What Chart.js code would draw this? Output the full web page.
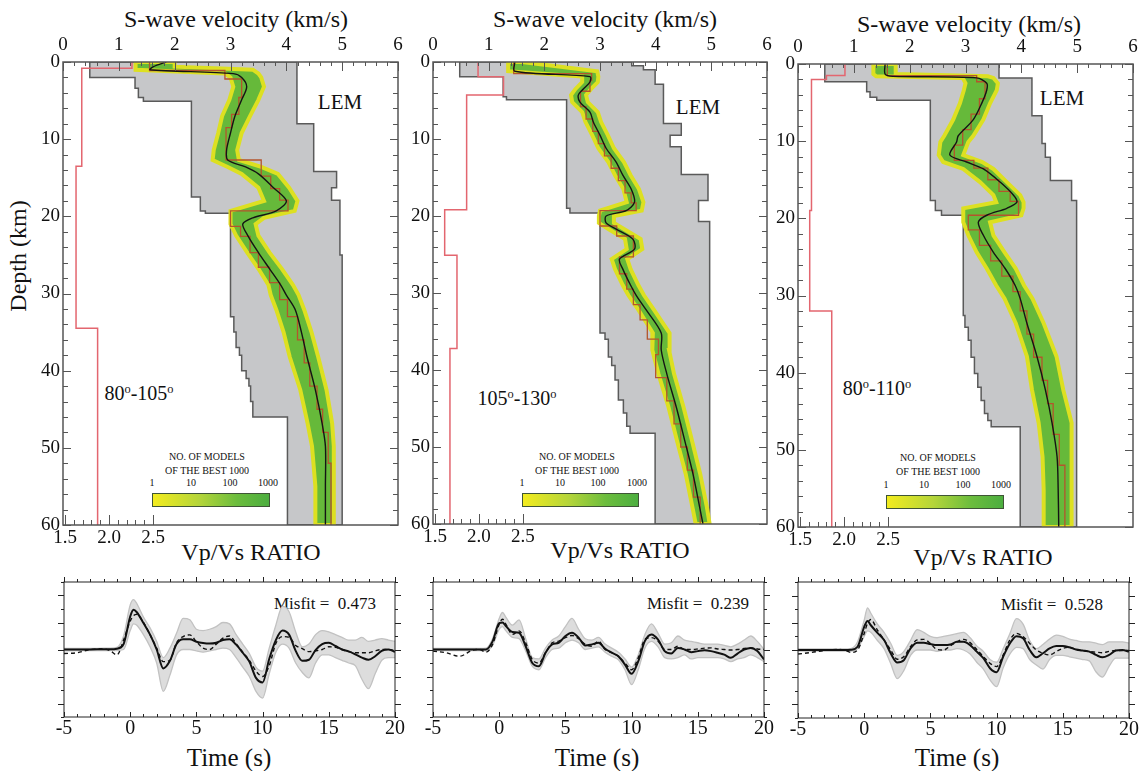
<!DOCTYPE html>
<html>
<head>
<meta charset="utf-8">
<script src="https://cdn.jsdelivr.net/npm/chart.js@4.4.1/dist/chart.umd.min.js"></script>
<style>
html, body { margin: 0; overflow: hidden; }
body { background: #fff; width: 1142px; height: 771px; position: relative;
       font-family: 'Liberation Serif', 'DejaVu Serif', serif; color: #111; }
canvas { position: absolute; }
.t { position: absolute; white-space: nowrap; line-height: 1; transform: translate(-50%, -50%); }
.t sup { font-size: 0.62em; vertical-align: 0; position: relative; top: -0.55em; }
.cb { position: absolute; height: 12px; border: 1px solid #3f5536;
      background: linear-gradient(to right, #f3ec1e, #b4d53a 40%, #6cbd3d 72%, #4cae3f); }
.small { font-size: 10px; }
</style>
</head>
<body>

<div class="t" style="left:236px;top:19px;font-size:24px">S-wave velocity (km/s)</div>
<div class="t" style="left:605px;top:19px;font-size:24px">S-wave velocity (km/s)</div>
<div class="t" style="left:969px;top:24px;font-size:24px">S-wave velocity (km/s)</div>
<div class="t" style="left:18px;top:256px;font-size:24px;transform:translate(-50%,-50%) rotate(-90deg)">Depth (km)</div>

<div class="t" style="left:340px;top:102px;font-size:21px">LEM</div>
<div class="t" style="left:698px;top:107px;font-size:21px">LEM</div>
<div class="t" style="left:1062px;top:98px;font-size:21px">LEM</div>

<div class="t" style="left:139px;top:393px;font-size:20px">80<sup>o</sup>-105<sup>o</sup></div>
<div class="t" style="left:517px;top:398px;font-size:20px">105<sup>o</sup>-130<sup>o</sup></div>
<div class="t" style="left:877px;top:388px;font-size:20px">80<sup>o</sup>-110<sup>o</sup></div>

<div class="t small" style="left:207px;top:457px">NO. OF MODELS</div>
<div class="t small" style="left:207px;top:471px">OF THE BEST 1000</div>
<div class="t small" style="left:152px;top:483px">1</div>
<div class="t small" style="left:191px;top:483px">10</div>
<div class="t small" style="left:230px;top:483px">100</div>
<div class="t small" style="left:268px;top:483px">1000</div>
<div class="cb" style="left:152px;top:493px;width:116px"></div>

<div class="t small" style="left:577px;top:457px">NO. OF MODELS</div>
<div class="t small" style="left:577px;top:471px">OF THE BEST 1000</div>
<div class="t small" style="left:522px;top:483px">1</div>
<div class="t small" style="left:560px;top:483px">10</div>
<div class="t small" style="left:598px;top:483px">100</div>
<div class="t small" style="left:637px;top:483px">1000</div>
<div class="cb" style="left:522px;top:493px;width:115px"></div>

<div class="t small" style="left:938px;top:458px">NO. OF MODELS</div>
<div class="t small" style="left:938px;top:472px">OF THE BEST 1000</div>
<div class="t small" style="left:886px;top:485px">1</div>
<div class="t small" style="left:924px;top:485px">10</div>
<div class="t small" style="left:963px;top:485px">100</div>
<div class="t small" style="left:1001px;top:485px">1000</div>
<div class="cb" style="left:886px;top:495px;width:116px"></div>

<div class="t" style="left:251px;top:552px;font-size:24px">Vp/Vs RATIO</div>
<div class="t" style="left:620px;top:550px;font-size:24px">Vp/Vs RATIO</div>
<div class="t" style="left:983px;top:557px;font-size:24px">Vp/Vs RATIO</div>

<div class="t" style="left:325px;top:603px;font-size:17px">Misfit =&nbsp; 0.473</div>
<div class="t" style="left:698px;top:603px;font-size:17px">Misfit =&nbsp; 0.239</div>
<div class="t" style="left:1052px;top:604px;font-size:17px">Misfit =&nbsp; 0.528</div>

<div class="t" style="left:229px;top:757px;font-size:25px">Time (s)</div>
<div class="t" style="left:597px;top:757px;font-size:25px">Time (s)</div>
<div class="t" style="left:957px;top:757px;font-size:25px">Time (s)</div>

<script>
// ---------- velocity profiles (depth in km, Vs in km/s) ----------
const ratioTicks = [1.5, 2.0, 2.5];

// 80-105 deg
const p1EnvMinTop = [0, 2.0, 3.4, 4.6, 5.1, 17.5, 19.3, 19.6, 33, 35, 37, 38, 40, 41, 42, 44, 46];
const p1EnvMin    = [0.48, 1.29, 1.35, 1.44, 2.3, 2.46, 2.55, 3.0, 3.06, 3.1, 3.16, 3.2, 3.28, 3.33, 3.36, 3.4, 4.02];
const p1EnvMaxTop = [0, 8, 14.2, 16.3, 17.9, 25];
const p1EnvMax    = [4.19, 4.49, 4.9, 4.81, 4.96, 5.0];
const p1Depth = [0, 0.6, 1.0, 1.5, 2, 3.2, 4.9, 7, 9.2, 11.4, 12.7, 13.6, 14.5, 16.3, 18, 19.3, 20.2, 21, 22.5, 24.7, 26.8, 28.9, 30.2, 32.1, 35, 38.2, 42.5, 46.8, 49.8, 55, 60];
const p1Best  = [1.85, 1.62, 1.56, 3.05, 3.2, 3.29, 3.2, 3.08, 3.0, 2.93, 2.95, 3.27, 3.5, 3.77, 4.0, 3.82, 3.4, 3.22, 3.31, 3.5, 3.7, 3.9, 4.0, 4.16, 4.27, 4.37, 4.52, 4.64, 4.7, 4.7, 4.7];
const p1Lo    = [1.3, 1.3, 1.3, 2.9, 3.0, 3.05, 2.98, 2.85, 2.78, 2.7, 2.68, 2.95, 3.2, 3.5, 3.6, 3.0, 3.0, 3.0, 3.1, 3.3, 3.5, 3.68, 3.72, 3.82, 3.95, 4.06, 4.25, 4.38, 4.46, 4.52, 4.52];
const p1Hi    = [2.0, 2.0, 3.4, 3.5, 3.55, 3.6, 3.5, 3.35, 3.2, 3.12, 3.15, 3.55, 3.85, 4.05, 4.2, 4.15, 3.6, 3.45, 3.5, 3.7, 3.92, 4.12, 4.22, 4.32, 4.45, 4.57, 4.72, 4.82, 4.85, 4.85, 4.85];
const p1StepTop = [0, 1.1, 2.2, 4.6, 6.8, 8.5, 12.7, 14.8, 16.4, 17.9, 19.3, 21.3, 22.6, 24.7, 26.6, 28.6, 30.8, 33, 36, 39, 42, 45, 48, 52];
const p1StepVs  = [1.55, 2.9, 3.2, 3.15, 3.02, 2.92, 3.55, 3.72, 3.88, 4.03, 3.0, 3.18, 3.35, 3.5, 3.7, 3.88, 4.02, 4.2, 4.32, 4.42, 4.55, 4.65, 4.75, 4.8];
const p1RatioTop = [0, 0.8, 13.5, 34.5];
const p1Ratio    = [2.26, 1.69, 1.625, 1.87];

// 105-130 deg
const p2EnvMinTop = [0, 1.9, 4.5, 4.9, 19.0, 19.6, 35.2, 36, 38.3, 39.4, 41.3, 43.9, 45.6, 47.3, 48.2];
const p2EnvMin    = [0.48, 1.26, 1.32, 2.4, 2.46, 3.0, 3.09, 3.15, 3.21, 3.27, 3.33, 3.42, 3.48, 3.54, 3.99];
const p2EnvMaxTop = [0, 0.5, 1.0, 2.9, 8, 9.5, 11, 14.6, 18, 20.7];
const p2EnvMax    = [3.57, 3.78, 3.99, 4.14, 4.46, 4.26, 4.46, 4.94, 4.77, 4.97];
const p2Depth = [0, 1.2, 1.9, 2.6, 3.5, 4.3, 5.2, 6.5, 7.8, 9.5, 11.2, 13, 14.7, 16.5, 18.2, 19.3, 20, 20.9, 21.7, 23, 24.3, 25.6, 26.9, 29, 30.3, 32.2, 35.2, 37.4, 40.5, 44.8, 49.1, 53.5, 57.8, 60];
const p2Best  = [1.47, 1.47, 2.82, 2.82, 2.7, 2.61, 2.64, 2.82, 2.88, 3.0, 3.11, 3.29, 3.41, 3.56, 3.62, 3.47, 3.11, 3.11, 3.29, 3.59, 3.62, 3.35, 3.41, 3.55, 3.65, 3.83, 4.1, 4.1, 4.2, 4.37, 4.52, 4.67, 4.79, 4.85];
const p2Lo    = [1.35, 1.35, 2.68, 2.68, 2.56, 2.48, 2.5, 2.68, 2.74, 2.86, 2.97, 3.15, 3.27, 3.42, 3.48, 3.0, 2.98, 2.98, 3.15, 3.45, 3.48, 3.21, 3.27, 3.41, 3.51, 3.69, 3.95, 3.94, 4.05, 4.23, 4.38, 4.54, 4.66, 4.72];
const p2Hi    = [1.6, 2.95, 2.97, 2.96, 2.84, 2.75, 2.78, 2.96, 3.02, 3.14, 3.25, 3.43, 3.55, 3.7, 3.78, 3.75, 3.25, 3.25, 3.43, 3.73, 3.76, 3.49, 3.55, 3.69, 3.79, 3.97, 4.25, 4.24, 4.33, 4.5, 4.65, 4.8, 4.92, 4.97];
const p2StepTop = [0, 1.5, 2.4, 3.8, 5.8, 7.4, 9, 10.6, 12.2, 13.8, 15.4, 17, 18.3, 19.3, 21.3, 22.6, 25.3, 27.5, 29.5, 31.5, 33.5, 36, 38, 41, 44, 47, 50, 53, 56.5];
const p2StepVs  = [1.45, 2.85, 2.82, 2.65, 2.75, 2.87, 2.97, 3.08, 3.2, 3.33, 3.45, 3.56, 3.65, 3.0, 3.3, 3.6, 3.35, 3.48, 3.6, 3.72, 3.85, 4.05, 4.0, 4.2, 4.33, 4.45, 4.57, 4.68, 4.8];
const p2RatioTop = [0, 1.9, 4.3, 19.2, 25.1, 37.2];
const p2Ratio    = [1.99, 2.28, 1.86, 1.61, 1.75, 1.67];

// 80-110 deg
const p3EnvMinTop = [0, 2.3, 3.6, 4.3, 4.7, 17.7, 19, 19.6, 32.6, 34.1, 35.8, 38, 40.1, 41.9, 43.6, 45.3, 46.2, 47];
const p3EnvMin    = [0.48, 1.23, 1.29, 1.41, 2.37, 2.46, 2.57, 2.96, 2.99, 3.05, 3.1, 3.16, 3.22, 3.28, 3.34, 3.4, 3.46, 3.98];
const p3EnvMaxTop = [0, 1.8, 6.7, 10.3, 12.1, 15.1, 17.7];
const p3EnvMax    = [3.6, 4.19, 4.37, 4.43, 4.52, 4.9, 4.99];
const p3Depth = [0, 1.3, 1.6, 1.8, 2.5, 3.4, 5.1, 7.2, 9.3, 10.1, 11.8, 12.7, 13.6, 15.3, 17, 17.9, 18.7, 19.6, 20.5, 22.2, 24.4, 26.5, 28.7, 30.4, 33.6, 37.9, 42.2, 46.5, 50.9, 55.2, 60];
const p3Best  = [1.56, 1.56, 1.7, 3.2, 3.38, 3.38, 3.29, 3.14, 2.87, 2.84, 2.72, 3.02, 3.32, 3.62, 3.86, 3.92, 3.74, 3.38, 3.23, 3.32, 3.5, 3.71, 3.89, 3.98, 4.1, 4.28, 4.43, 4.55, 4.64, 4.66, 4.67];
const p3Lo    = [1.35, 1.35, 1.4, 2.95, 3.0, 2.97, 2.9, 2.78, 2.62, 2.55, 2.52, 2.6, 2.96, 3.26, 3.5, 3.55, 2.96, 2.96, 2.96, 3.05, 3.2, 3.38, 3.55, 3.7, 3.9, 4.1, 4.19, 4.31, 4.38, 4.4, 4.4];
const p3Hi    = [1.75, 1.75, 3.4, 3.5, 3.58, 3.56, 3.44, 3.32, 3.14, 3.05, 2.96, 3.3, 3.5, 3.74, 3.98, 4.04, 4.04, 4.0, 3.44, 3.5, 3.7, 3.9, 4.05, 4.2, 4.4, 4.63, 4.75, 4.9, 4.9, 4.9, 4.9];
const p3StepTop = [0, 1.5, 2.3, 4.5, 6.5, 8.5, 10.5, 12.5, 13.5, 15, 16.5, 17.8, 19.6, 21.5, 23.5, 25.5, 27.5, 29.5, 32, 35, 38, 41, 44, 48, 52];
const p3StepVs  = [1.6, 3.2, 3.35, 3.25, 3.1, 2.95, 2.8, 3.15, 3.4, 3.6, 3.8, 3.95, 3.05, 3.25, 3.45, 3.65, 3.85, 3.98, 4.1, 4.22, 4.37, 4.47, 4.57, 4.68, 4.78];
const p3RatioTop = [0, 1.5, 2.0, 19, 32];
const p3Ratio    = [2.01, 1.8, 1.63, 1.61, 1.86];

// ---------- waveforms ----------
const time = [-5, -4, -3, -2, -1.5, -1, -0.5, 0, 0.25, 0.5, 1, 1.5, 2, 2.5, 3, 3.5, 4, 4.5, 5, 5.5, 6, 6.5, 7, 7.5, 8, 8.5, 9, 9.5, 10, 10.5, 11, 11.5, 12, 12.5, 13, 13.5, 14, 14.5, 15, 15.5, 16, 16.5, 17, 17.5, 18, 18.5, 19, 19.5, 20];

const w1Syn = [0, 0, 0, 0.01, 0.01, 0.03, 0.2, 1.22, 1.47, 1.38, 0.98, 0.55, 0.0, -0.7, -0.42, 0.2, 0.38, 0.38, 0.29, 0.24, 0.22, 0.25, 0.35, 0.38, 0.18, -0.12, -0.45, -1.05, -1.22, -0.35, 0.35, 0.7, 0.55, -0.05, -0.42, -0.38, -0.02, 0.2, 0.25, 0.13, 0.0, -0.07, -0.18, -0.3, -0.38, -0.25, -0.05, 0.0, -0.09];
const w1Obs = [-0.15, -0.12, 0.0, 0.02, -0.05, -0.2, 0.35, 1.05, 1.25, 1.3, 1.0, 0.55, 0.05, -0.45, -0.4, 0.25, 0.48, 0.54, 0.29, 0.05, 0.0, 0.2, 0.42, 0.5, 0.22, -0.1, -0.4, -0.8, -1.0, -0.6, 0.22, 0.48, 0.45, 0.15, 0.03, -0.08, -0.05, 0.0, 0.1, 0.08, 0.0, -0.08, -0.12, -0.12, -0.12, -0.05, 0.0, 0.0, -0.05];
const w1Hi  = [0.04, 0.04, 0.04, 0.05, 0.05, 0.08, 0.5, 1.65, 1.85, 1.7, 1.2, 0.8, 0.3, -0.3, 0.05, 0.6, 1.15, 1.1, 0.75, 0.7, 0.75, 0.85, 1.0, 0.95, 0.55, 0.2, -0.15, -0.65, -0.8, 0.05, 0.9, 1.6, 1.4, 0.65, 0.1, 0.2, 0.55, 0.7, 0.65, 0.55, 0.45, 0.35, 0.35, 0.45, 0.3, 0.35, 0.4, 0.35, 0.3];
const w1Lo  = [-0.05, -0.04, -0.04, -0.04, -0.04, -0.04, 0.0, 0.7, 0.95, 0.9, 0.55, 0.1, -0.5, -1.55, -0.95, -0.2, 0.0, 0.0, -0.05, -0.1, -0.05, 0.0, 0.05, 0.0, -0.3, -0.65, -1.0, -1.55, -1.8, -0.9, -0.1, 0.2, 0.05, -0.5, -0.85, -1.05, -0.5, -0.2, -0.2, -0.3, -0.4, -0.5, -0.6, -1.1, -1.45, -0.9, -0.4, -0.3, -0.3];

const w2Syn = [0, 0, 0, 0, 0, 0.0, 0.3, 0.98, 1.0, 0.87, 0.65, 0.62, 0.12, -0.5, -0.62, -0.12, 0.19, 0.25, 0.5, 0.62, 0.44, 0.15, 0.19, 0.25, 0.03, -0.12, -0.25, -0.56, -0.9, -0.44, 0.31, 0.56, 0.37, -0.06, -0.15, 0.06, 0.0, -0.1, -0.06, -0.03, -0.06, -0.12, -0.19, -0.31, -0.15, 0.0, 0.06, -0.06, -0.37];
const w2Obs = [-0.06, -0.12, -0.25, -0.02, 0.0, -0.1, 0.19, 0.94, 1.12, 0.94, 0.56, 0.69, 0.25, -0.37, -0.5, -0.12, 0.25, 0.31, 0.44, 0.52, 0.4, 0.19, 0.12, 0.31, 0.0, -0.12, -0.25, -0.5, -0.75, -0.31, 0.37, 0.44, 0.31, 0.0, 0.0, 0.12, 0.0, 0.0, 0.02, 0.05, 0.06, 0.02, 0.0, -0.02, 0.0, 0.04, 0.06, 0.02, 0.0];
const w2Hi  = [0.04, 0.04, 0.04, 0.04, 0.04, 0.05, 0.4, 1.15, 1.37, 1.2, 0.9, 1.1, 0.4, -0.3, -0.35, 0.05, 0.35, 0.5, 0.85, 1.15, 0.75, 0.4, 0.35, 0.45, 0.2, 0.05, -0.1, -0.35, -0.65, -0.2, 0.55, 0.95, 0.6, 0.2, 0.25, 0.5, 0.35, 0.3, 0.25, 0.2, 0.2, 0.2, 0.15, 0.1, 0.2, 0.35, 0.5, 0.3, 0.0];
const w2Lo  = [-0.04, -0.04, -0.04, -0.04, -0.04, -0.05, 0.15, 0.75, 0.85, 0.7, 0.45, 0.4, -0.05, -0.62, -0.75, -0.3, 0.0, 0.05, 0.25, 0.35, 0.25, 0.0, 0.05, 0.1, -0.1, -0.25, -0.38, -0.75, -1.3, -0.75, 0.05, 0.3, 0.1, -0.3, -0.35, -0.3, -0.2, -0.35, -0.3, -0.3, -0.3, -0.3, -0.35, -0.45, -0.35, -0.3, -0.2, -0.3, -0.45];

const w3Syn = [0, 0, 0, 0, 0, 0.01, 0.12, 0.85, 1.07, 0.91, 0.63, 0.37, -0.12, -0.46, -0.37, 0.06, 0.27, 0.27, 0.22, 0.18, 0.18, 0.2, 0.3, 0.3, 0.18, -0.06, -0.3, -0.67, -0.82, -0.24, 0.24, 0.51, 0.43, 0.0, -0.27, -0.12, 0.06, 0.15, 0.15, 0.1, 0.02, -0.02, -0.06, -0.18, -0.27, -0.18, -0.02, 0.0, -0.06];
const w3Obs = [-0.15, -0.09, -0.02, 0.02, 0.0, -0.09, 0.0, 0.61, 0.98, 1.12, 0.73, 0.37, 0.0, -0.34, -0.24, 0.12, 0.37, 0.39, 0.24, 0.02, 0.0, 0.15, 0.3, 0.39, 0.27, 0.02, -0.24, -0.49, -0.61, -0.18, 0.37, 0.61, 0.49, 0.24, 0.0, -0.12, -0.18, -0.06, 0.06, 0.1, 0.02, -0.03, -0.06, -0.08, -0.1, -0.05, -0.02, -0.02, -0.02];
const w3Hi  = [0.04, 0.04, 0.04, 0.04, 0.04, 0.05, 0.3, 1.1, 1.55, 1.35, 0.95, 0.65, 0.25, -0.2, -0.05, 0.35, 0.75, 0.65, 0.5, 0.45, 0.5, 0.55, 0.6, 0.65, 0.45, 0.15, -0.05, -0.35, -0.45, 0.05, 0.6, 1.15, 0.95, 0.35, 0.05, 0.2, 0.4, 0.55, 0.5, 0.4, 0.35, 0.3, 0.3, 0.25, 0.2, 0.3, 0.3, 0.3, 0.25];
const w3Lo  = [-0.04, -0.04, -0.04, -0.04, -0.04, -0.04, 0.05, 0.5, 0.7, 0.65, 0.35, 0.05, -0.5, -1.05, -0.75, -0.2, 0.0, 0.0, 0.0, -0.05, 0.0, 0.0, 0.05, 0.0, -0.15, -0.45, -0.7, -1.1, -1.35, -0.65, -0.15, 0.1, 0.05, -0.35, -0.55, -0.7, -0.35, -0.2, -0.2, -0.25, -0.3, -0.35, -0.4, -0.8, -1.0, -0.6, -0.3, -0.3, -0.3];

// ---------- helpers ----------
const serif = "'Liberation Serif', 'DejaVu Serif', serif";

function makeCanvas(left, top, w, h) {
  const c = document.createElement('canvas');
  c.width = w; c.height = h;
  c.style.left = left + 'px'; c.style.top = top + 'px';
  c.style.width = w + 'px'; c.style.height = h + 'px';
  document.body.appendChild(c);
  return c;
}

// layered model -> staircase points
function steps(tops, vals, bottom) {
  const pts = [];
  tops.forEach((t, i) => {
    const next = i + 1 < tops.length ? tops[i + 1] : bottom;
    pts.push({x: vals[i], y: t}, {x: vals[i], y: next});
  });
  return pts;
}
function nodes(depths, vals) { return depths.map((d, i) => ({x: vals[i], y: d})); }
// closed outline: left edge going down, right edge coming back up
function ring(left, right) { return left.concat(right.slice().reverse(), [left[0]]); }
function series(xs, ys) { return xs.map((x, i) => ({x: x, y: ys[i]})); }

// frame round the plot area plus tick marks drawn through the scales
function framePlugin(color, width, marks) {
  return {
    id: 'frameTicks',
    afterDatasetsDraw(chart) {
      const ctx = chart.ctx, a = chart.chartArea;
      ctx.save();
      ctx.strokeStyle = color;
      ctx.lineWidth = width;
      ctx.strokeRect(a.left, a.top, a.right - a.left, a.bottom - a.top);
      ctx.lineWidth = 1;
      marks.forEach(m => {
        const s = chart.scales[m.scale];
        const n = Math.round((m.to - m.from) / m.step);
        for (let i = 0; i <= n; i++) {
          const v = m.from + i * m.step;
          const major = Math.abs(v / m.major - Math.round(v / m.major)) < 1e-6;
          const len = (major ? m.majorLen : m.len) * (m.out ? -1 : 1);
          const p = Math.round(s.getPixelForValue(v)) + 0.5;
          ctx.beginPath();
          if (m.side === 'top') { ctx.moveTo(p, a.top); ctx.lineTo(p, a.top + len); }
          else if (m.side === 'bottom') { ctx.moveTo(p, a.bottom); ctx.lineTo(p, a.bottom - len); }
          else if (m.side === 'left') { ctx.moveTo(a.left, p); ctx.lineTo(a.left + len, p); }
          else { ctx.moveTo(a.right, p); ctx.lineTo(a.right - len, p); }
          ctx.stroke();
        }
      });
      ctx.restore();
    }
  };
}

const noGrid = {display: false, drawTicks: false};
const basePlugins = {legend: {display: false}, tooltip: {enabled: false}, filler: {drawTime: 'beforeDatasetsDraw'}};

function profileChart(box, env, band, best, stepLine, ratio) {
  const c = makeCanvas(box.L - 50, box.T - 40, box.R - box.L + 62, box.B - box.T + 70);
  new Chart(c, {
    type: 'scatter',
    data: {
      datasets: [
        {data: best, showLine: true, borderColor: '#141414', borderWidth: 1.4, tension: 0.3, pointRadius: 0},
        {data: stepLine, showLine: true, borderColor: '#b4552c', borderWidth: 1.3, pointRadius: 0},
        {data: band, showLine: true, fill: 'shape', backgroundColor: '#66b93a', borderColor: '#dde021', borderWidth: 4, pointRadius: 0},
        {data: ratio, xAxisID: 'xr', showLine: true, borderColor: '#e3666f', borderWidth: 1.5, pointRadius: 0},
        {data: env, showLine: true, fill: 'shape', backgroundColor: '#c6c7c9', borderColor: '#5a5a5a', borderWidth: 1.5, pointRadius: 0}
      ]
    },
    options: {
      responsive: false, animation: false, events: [],
      layout: {padding: {left: 0, top: 0, right: 12, bottom: 0}},
      plugins: basePlugins,
      scales: {
        x: {type: 'linear', position: 'top', min: 0, max: 6,
            ticks: {stepSize: 1, padding: 6, color: '#111', font: {family: serif, size: 19}, maxRotation: 0},
            grid: noGrid, border: {display: false},
            afterFit: s => { s.height = 40; }},
        y: {type: 'linear', position: 'left', reverse: true, min: 0, max: 60,
            ticks: {stepSize: 10, padding: 3, color: '#111', font: {family: serif, size: 19}},
            grid: noGrid, border: {display: false},
            afterFit: s => { s.width = 50; }},
        xr: {type: 'linear', position: 'bottom', min: 1.477, max: 5.28,
             afterBuildTicks: s => { s.ticks = ratioTicks.map(v => ({value: v})); },
             ticks: {padding: 2, color: '#111', font: {family: serif, size: 19}, maxRotation: 0,
                     callback: v => Number(v).toFixed(1)},
             grid: noGrid, border: {display: false},
             afterFit: s => { s.height = 30; }}
      }
    },
    plugins: [framePlugin('#555', 1.5, [
      {scale: 'x', side: 'top', from: 0, to: 6, step: 0.2, major: 1, len: 4, majorLen: 9},
      {scale: 'y', side: 'left', from: 0, to: 60, step: 2, major: 10, len: 5, majorLen: 8},
      {scale: 'y', side: 'right', from: 0, to: 60, step: 2, major: 10, len: 5, majorLen: 8},
      {scale: 'xr', side: 'bottom', from: 1.5, to: 2.5, step: 0.1, major: 0.5, len: 5, majorLen: 10}
    ])]
  });
}

function waveChart(box, syn, obs, hi, lo) {
  const c = makeCanvas(box.L - 30, box.T - 10, box.R - box.L + 44, box.B - box.T + 40);
  new Chart(c, {
    type: 'scatter',
    data: {
      datasets: [
        {data: series(time, syn), showLine: true, borderColor: '#111', borderWidth: 2, cubicInterpolationMode: 'monotone', pointRadius: 0},
        {data: series(time, obs), showLine: true, borderColor: '#111', borderWidth: 1.4, borderDash: [4, 3], cubicInterpolationMode: 'monotone', pointRadius: 0},
        {data: series(time, hi), showLine: true, fill: '+1', backgroundColor: '#dddddd', borderColor: '#c2c2c2', borderWidth: 1.3, cubicInterpolationMode: 'monotone', pointRadius: 0},
        {data: series(time, lo), showLine: true, borderColor: '#c2c2c2', borderWidth: 1.3, cubicInterpolationMode: 'monotone', pointRadius: 0}
      ]
    },
    options: {
      responsive: false, animation: false, events: [],
      layout: {padding: {left: 0, top: 10, right: 14, bottom: 0}},
      plugins: basePlugins,
      scales: {
        x: {type: 'linear', position: 'bottom', min: -5, max: 20,
            ticks: {stepSize: 5, padding: 0, color: '#111', font: {family: serif, size: 20}, maxRotation: 0},
            grid: noGrid, border: {display: false},
            afterFit: s => { s.height = 30; }},
        y: {type: 'linear', position: 'left', min: -2.5, max: 2.5,
            ticks: {display: false}, grid: noGrid, border: {display: false},
            afterFit: s => { s.width = 30; }}
      }
    },
    plugins: [framePlugin('#222', 1, [
      {scale: 'x', side: 'top', from: -5, to: 20, step: 1, major: 5, len: 3, majorLen: 5, out: true},
      {scale: 'x', side: 'bottom', from: -5, to: 20, step: 1, major: 5, len: 3, majorLen: 5},
      {scale: 'y', side: 'left', from: -2.5, to: 2.5, step: 0.5, major: 1, len: 3, majorLen: 6, out: true},
      {scale: 'y', side: 'right', from: -2.5, to: 2.5, step: 0.5, major: 1, len: 3, majorLen: 6, out: true}
    ])]
  });
}

profileChart({L: 63, R: 398, T: 62, B: 525},
  ring(steps(p1EnvMinTop, p1EnvMin, 60), steps(p1EnvMaxTop, p1EnvMax, 60)),
  ring(nodes(p1Depth, p1Lo), nodes(p1Depth, p1Hi)),
  nodes(p1Depth, p1Best), steps(p1StepTop, p1StepVs, 60), steps(p1RatioTop, p1Ratio, 60));

profileChart({L: 433, R: 767, T: 62, B: 524},
  ring(steps(p2EnvMinTop, p2EnvMin, 60), steps(p2EnvMaxTop, p2EnvMax, 60)),
  ring(nodes(p2Depth, p2Lo), nodes(p2Depth, p2Hi)),
  nodes(p2Depth, p2Best), steps(p2StepTop, p2StepVs, 60), steps(p2RatioTop, p2Ratio, 60));

profileChart({L: 798, R: 1133, T: 64, B: 527},
  ring(steps(p3EnvMinTop, p3EnvMin, 60), steps(p3EnvMaxTop, p3EnvMax, 60)),
  ring(nodes(p3Depth, p3Lo), nodes(p3Depth, p3Hi)),
  nodes(p3Depth, p3Best), steps(p3StepTop, p3StepVs, 60), steps(p3RatioTop, p3Ratio, 60));

waveChart({L: 64, R: 395, T: 582, B: 717}, w1Syn, w1Obs, w1Hi, w1Lo);
waveChart({L: 433, R: 764, T: 582, B: 717}, w2Syn, w2Obs, w2Hi, w2Lo);
waveChart({L: 798, R: 1129, T: 582, B: 718}, w3Syn, w3Obs, w3Hi, w3Lo);
</script>
</body>
</html>
